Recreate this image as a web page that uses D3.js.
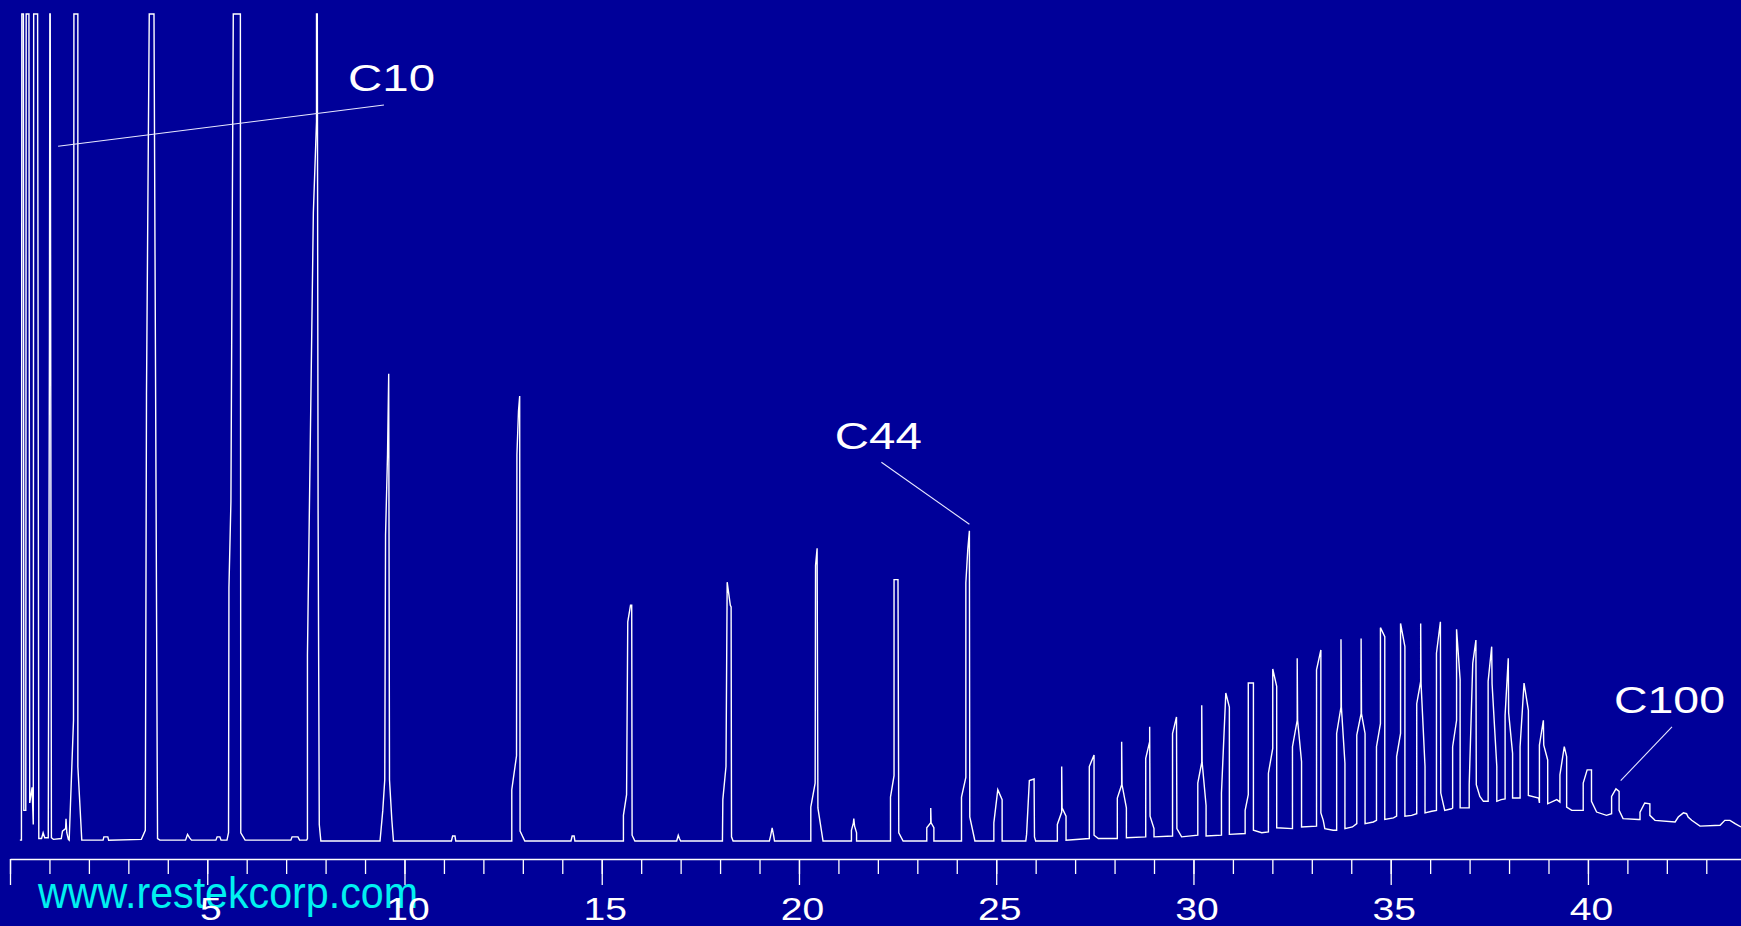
<!DOCTYPE html>
<html>
<head>
<meta charset="utf-8">
<script src="https://cdn.jsdelivr.net/npm/d3@7/dist/d3.min.js"></script>
<style>
  html, body { margin: 0; padding: 0; background: #000099; }
  svg { display: block; }
  text { font-family: "Liberation Sans", Arial, Helvetica, sans-serif; }
</style>
</head>
<body>
<svg width="1741" height="926"></svg>
<script>
// Trace: [minutes, % of full scale]; 100 = clipped at top
var solventFront = [
  [0.25,0.1],[0.29,0.1],[0.30,100],[0.34,100],[0.35,3.7],[0.40,3.7],[0.41,100],[0.48,100],
  [0.50,4.6],[0.56,6.5],[0.59,2.0],[0.60,100],[0.70,100],[0.73,0.3],[0.80,0.3],[0.84,1.0],
  [0.88,0.4],[0.97,0.4],[1.00,60],[1.01,100],[1.02,100],[1.05,0.4],[1.10,0.2],[1.30,0.3],
  [1.33,1.2],[1.41,1.5],[1.42,2.7],[1.44,1.0],[1.48,0.2],[1.50,0.1],[1.61,14.6],[1.62,100],
  [1.72,100],[1.72,9.0],[1.82,0.1]
];

var earlyPeaks = [
  [2.36,0.1],[2.38,0.5],[2.48,0.5],[2.50,0.1],
  [3.33,0.2],[3.43,1.3],[3.46,54],[3.53,100],[3.65,100],[3.74,0.3],[3.80,0.1],
  [4.45,0.1],[4.50,0.8],[4.55,0.4],[4.60,0.1],[5.22,0.1],[5.25,0.5],[5.32,0.5],[5.35,0.1],
  [5.50,0.1],[5.54,1.0],[5.55,30.6],[5.60,41],[5.66,100],[5.84,100],[5.85,1.0],[5.96,0.1],
  [7.12,0.1],[7.15,0.5],[7.30,0.5],[7.34,0.1],
  [7.52,0.1],[7.54,0.3],[7.54,22.5],[7.69,76],[7.77,87],[7.77,100],[7.79,100],[7.81,40],[7.84,2.0],[7.88,0],
  [9.38,0],[9.45,3.7],[9.50,7.4],[9.52,37],[9.57,46.7],[9.60,56.5],[9.62,7.4],[9.68,2.5],[9.72,0],
  [11.19,0],[11.22,0.6],[11.28,0.6],[11.30,0],
  [12.65,0],[12.72,0],[12.72,6.2],[12.84,10.3],[12.85,46.7],[12.89,52],[12.92,53.8],[12.93,1.2],[13.05,0],
  [14.22,0],[14.25,0.6],[14.30,0.6],[14.32,0]
];

var midPeaks = [
  [15.55,0],[15.55,3.1],[15.63,5.6],[15.66,26.5],[15.73,28.5],[15.76,28.5],[15.77,0.7],[15.84,0],
  [16.90,0],[16.94,0.7],[16.97,0.3],[17.00,0],
  [18.06,0],[18.07,5.0],[18.15,9.0],[18.18,31.3],[18.26,28.5],[18.28,28.3],[18.29,0.5],[18.33,0],
  [19.25,0],[19.28,0.6],[19.32,1.6],[19.36,0.6],[19.38,0],
  [20.30,0],[20.30,4.1],[20.41,7.0],[20.42,33.3],[20.46,35.4],[20.48,4.0],[20.61,0],
  [21.33,0],[21.33,1.3],[21.38,2.2],[21.39,2.7],[21.41,1.8],[21.46,1.0],[21.46,0],
  [22.32,0],[22.32,5.3],[22.41,7.9],[22.41,31.6],[22.51,31.6],[22.53,1.0],[22.64,0],
  [23.24,0],[23.24,1.6],[23.34,2.2],[23.34,4.0],[23.35,2.2],[23.42,1.6],[23.42,0],
  [24.12,0],[24.12,5.3],[24.23,7.7],[24.23,31.2],[24.28,35.3],[24.32,37.5],[24.33,2.9],[24.46,0]
];

var clusterPeaks = [
  [24.94,0],[24.94,2.2],[25.04,6.2],[25.15,5.0],[25.15,0],
  [25.75,0],[25.77,0.8],[25.84,7.3],[25.96,7.5],[25.97,0.5],[26.00,0],
  [26.55,0],[26.55,2.0],[26.66,3.5],[26.66,9.0],[26.67,4.0],[26.77,3.0],[26.77,0.1],
  [27.36,0.3],[27.36,9.0],[27.48,10.4],[27.48,0.7],[27.59,0.3],
  [28.07,0.3],[28.07,5.2],[28.18,6.8],[28.18,12.0],[28.19,6.8],[28.30,4.0],[28.30,0.4],
  [28.79,0.5],[28.79,10.0],[28.89,12.0],[28.89,13.8],[28.90,3.0],[29.00,1.5],[29.00,0.5],
  [29.47,0.6],[29.47,13.0],[29.57,15.0],[29.58,1.5],[29.70,0.5],
  [30.11,0.7],[30.11,7.0],[30.21,9.5],[30.21,16.4],[30.22,9.5],[30.32,4.3],[30.32,0.6],
  [30.71,0.7],[30.71,5.8],[30.82,17.9],[30.91,16.2],[30.91,0.8],
  [31.31,0.9],[31.31,3.7],[31.39,5.6],[31.39,19.1],[31.52,19.1],[31.52,1.3],[31.73,1.0],
  [31.90,1.1],[31.90,8.2],[32.01,11.2],[32.01,20.8],[32.11,18.7],[32.11,1.6],
  [32.51,1.5],[32.51,11.4],[32.63,14.6],[32.63,22.1],[32.64,14.6],[32.74,9.6],[32.74,1.7],
  [33.12,1.8],[33.12,20.7],[33.23,23.1],[33.23,3.4],[33.29,2.5],[33.33,1.5],[33.54,1.3],
  [33.63,1.3],[33.63,13.0],[33.74,16.2],[33.74,24.4],[33.75,16.2],[33.84,9.4],[33.84,1.5],[34.03,1.7],
  [34.14,2.1],[34.14,12.8],[34.25,15.4],[34.25,24.5],[34.26,15.4],[34.35,13.0],[34.35,2.1],[34.56,2.3],
  [34.64,2.5],[34.64,11.4],[34.74,14.2],[34.74,25.8],[34.85,24.7],[34.85,2.6],[35.07,2.8],
  [35.15,3.0],[35.15,10.2],[35.25,13.0],[35.25,26.3],[35.36,23.5],[35.36,3.0],[35.53,3.1]
];

var latePeaks = [
  [35.66,3.3],[35.66,16.6],[35.76,19.3],[35.76,26.3],[35.77,19.0],[35.87,9.0],[35.87,3.4],[36.04,3.6],
  [36.16,3.7],[36.16,22.7],[36.26,26.5],[36.27,5.8],[36.37,3.7],[36.54,3.9],
  [36.57,4.0],[36.57,11.4],[36.67,14.6],[36.67,25.6],[36.76,19.5],[36.76,4.0],[36.95,4.0],
  [36.99,4.0],[36.99,6.8],[37.08,21.5],[37.16,24.3],[37.17,6.8],[37.26,5.4],[37.35,4.8],
  [37.47,4.8],[37.47,19.3],[37.56,23.5],[37.57,19.0],[37.69,9.0],[37.69,4.8],[37.80,5.0],
  [37.90,5.1],[37.90,15.2],[37.98,22.1],[37.99,15.5],[38.09,10.6],[38.09,5.2],[38.28,5.2],
  [38.28,11.4],[38.38,19.1],[38.49,15.8],[38.49,5.5],[38.75,5.2],
  [38.77,4.6],[38.77,11.6],[38.87,14.6],[38.88,11.6],[38.98,9.8],[38.98,4.5],[39.21,5.0],
  [39.29,4.7],[39.29,8.0],[39.40,11.4],[39.46,10.2],[39.46,4.1],[39.59,3.7],[39.80,3.7],
  [39.88,3.7],[39.88,7.0],[39.98,8.6],[40.09,8.6],[40.09,4.8],[40.22,3.5],[40.47,3.1],
  [40.60,3.3],[40.60,5.4],[40.71,6.3],[40.79,6.0],[40.79,3.7],[40.89,2.7],[41.28,2.6],
  [41.32,2.6],[41.32,3.5],[41.44,4.6],[41.57,4.5],[41.57,3.1],[41.70,2.5],[42.21,2.3],
  [42.29,2.9],[42.42,3.4],[42.50,3.3],[42.54,2.9],[42.63,2.5],[42.84,1.8],[43.35,1.9],
  [43.47,2.5],[43.60,2.5],[43.73,2.1],[43.88,1.7]
];

// Axis ticks (minutes)
var majorTicks = [0, 5, 10, 15, 20, 25, 30, 35, 40];
var minorTicks = d3.range(0, 44, 1);

// Peak annotations: name, text anchor [min, %], leader line from/to [min, %]
var labelNames = ["C10", "C44", "C100"];
var labelAt = [[8.57, 90.7], [20.91, 47.4], [40.66, 15.5]];
var leaderFrom = [[9.48, 89.0], [22.09, 45.8], [42.13, 13.8]];
var leaderTo = [[1.22, 84.0], [24.32, 38.3], [40.83, 7.3]];

var website = "www.restekcorp.com";

var svg = d3.select("svg"),
  width = +svg.attr("width"),
  height = +svg.attr("height");

svg.append("rect")
  .attr("width", width)
  .attr("height", height)
  .attr("fill", "#000099");

var x = d3.scaleLinear().domain([0, 43.88]).range([10, 1741]);
var y = d3.scaleLinear().domain([0, 100]).range([841, 14]);

var trace = solventFront.concat(earlyPeaks, midPeaks, clusterPeaks, latePeaks);

// website text sits under the tick labels
svg.append("text")
  .attr("x", 38)
  .attr("y", 908)
  .attr("font-size", 44)
  .attr("textLength", 380)
  .attr("lengthAdjust", "spacingAndGlyphs")
  .attr("fill", "#00f0f0")
  .text(website);

// the chromatogram
var line = d3.line()
  .x(function(d) { return x(d[0]); })
  .y(function(d) { return y(d[1]); });

svg.append("path")
  .datum(trace)
  .attr("d", line)
  .attr("fill", "none")
  .attr("stroke", "#ffffff")
  .attr("stroke-width", 1.4)
  .attr("stroke-linejoin", "miter");

// axis: minor ticks every minute, major every 5
var axisY = 859;
svg.append("g")
  .attr("transform", "translate(0," + axisY + ")")
  .call(d3.axisBottom(x).tickValues(minorTicks).tickSize(15).tickSizeOuter(0).tickFormat(""))
  .call(function(g) {
    g.select(".domain").attr("stroke", "#fff").attr("stroke-width", 1.5);
    g.selectAll(".tick line").attr("stroke", "#fff").attr("stroke-width", 1.3);
  });

var major = svg.append("g")
  .attr("transform", "translate(0," + axisY + ")")
  .call(d3.axisBottom(x).tickValues(majorTicks).tickSize(26).tickSizeOuter(0)
    .tickFormat(function(d) { return d === 0 ? "" : d; }));
major.select(".domain").remove();
major.selectAll(".tick line").attr("stroke", "#fff").attr("stroke-width", 1.3);
major.selectAll(".tick text")
  .attr("fill", "#fff")
  .attr("font-size", 31)
  .attr("font-family", "'Liberation Sans', Arial, sans-serif")
  .attr("y", 61)
  .attr("dy", 0)
  .attr("transform", "translate(3,0) scale(1.26,1)");

// peak labels and leader lines
var lw = [87, 87, 111];
labelNames.forEach(function(name, i) {
  svg.append("line")
    .attr("x1", x(leaderFrom[i][0])).attr("y1", y(leaderFrom[i][1]))
    .attr("x2", x(leaderTo[i][0])).attr("y2", y(leaderTo[i][1]))
    .attr("stroke", "#e8e8ff")
    .attr("stroke-width", 1.1);
  svg.append("text")
    .attr("x", x(labelAt[i][0]))
    .attr("y", y(labelAt[i][1]))
    .attr("font-size", 37)
    .attr("textLength", lw[i])
    .attr("lengthAdjust", "spacingAndGlyphs")
    .attr("fill", "#fff")
    .text(name);
});
</script>
</body>
</html>
